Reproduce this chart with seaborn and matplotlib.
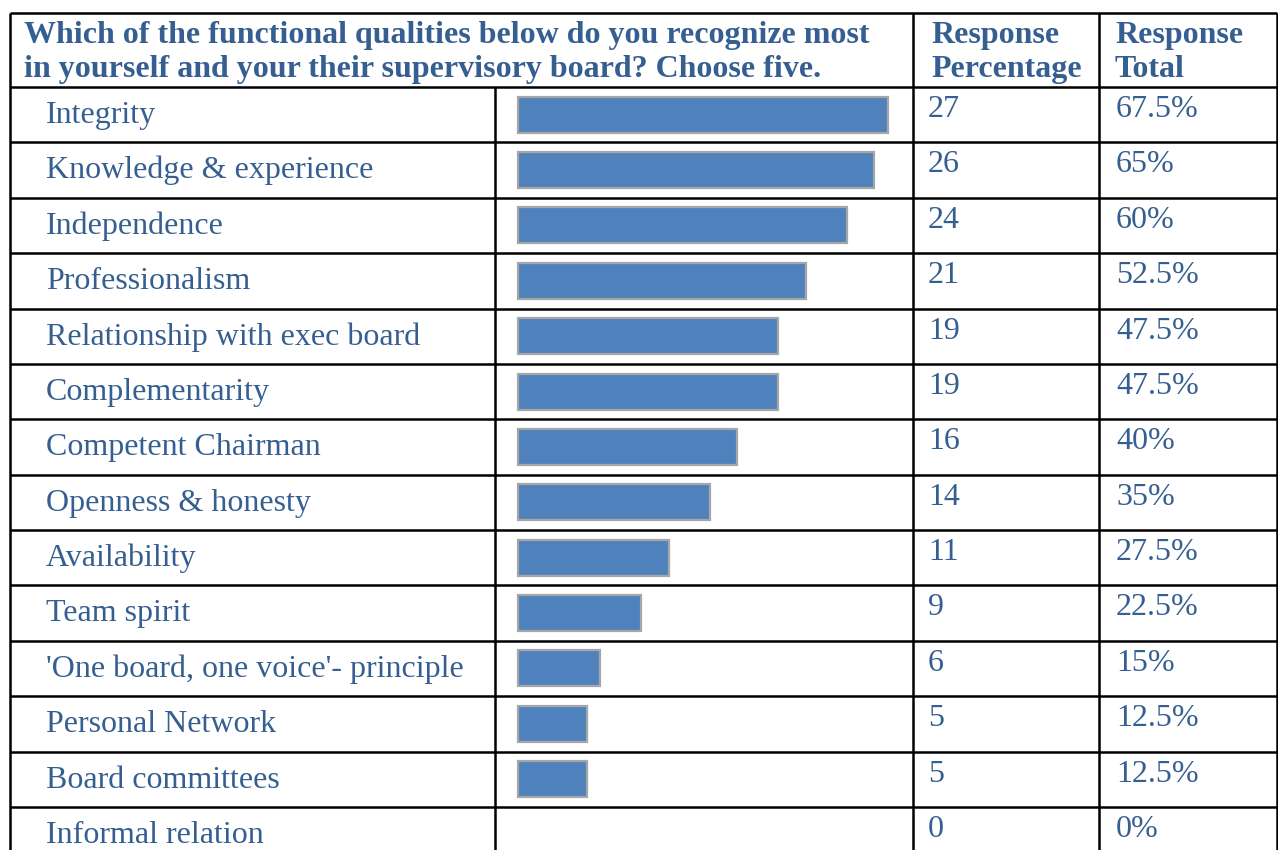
#Import packages
import matplotlib
matplotlib.use("Agg")
import matplotlib.pyplot as plt
import seaborn as sns
import pandas as pd

#Survey data
qualities = ["Integrity", "Knowledge & experience", "Independence", "Professionalism",
             "Relationship with exec board", "Complementarity", "Competent Chairman",
             "Openness & honesty", "Availability", "Team spirit",
             "'One board, one voice'- principle", "Personal Network",
             "Board committees", "Informal relation"]
counts = [27, 26, 24, 21, 19, 19, 16, 14, 11, 9, 6, 5, 5, 0]
percents = ["67.5%", "65%", "60%", "52.5%", "47.5%", "47.5%", "40%", "35%",
            "27.5%", "22.5%", "15%", "12.5%", "12.5%", "0%"]
question = ["Which of the functional qualities below do you recognize most",
            "in yourself and your their supervisory board? Choose five."]
col_heads = [["Response", "Percentage"], ["Response", "Total"]]

df = pd.DataFrame({"Quality": qualities, "Count": counts})

#Layout in pixels
W, H = 1278, 850
top, head_bot, row_h = 13, 87, 55.38
x_left, x_bar_col, x_num, x_pct, x_right = 10, 495, 913, 1099, 1276.5
bar_zero, px_per_unit = 518, 13.7
txt_col = "#365F91"
bar_col = "#4F81BD"

sns.set_style("white")
plt.rcParams["font.family"] = ["Liberation Serif", "DejaVu Serif"]

fig = plt.figure(figsize=(W / 100, H / 100), dpi=100)

#Full-figure axes for the table grid and text (pixel coordinates)
tab = fig.add_axes([0, 0, 1, 1])
tab.set_xlim(0, W)
tab.set_ylim(H, 0)
tab.axis("off")

#Bar axes inside the bar column
ax = fig.add_axes([x_bar_col / W, 0, (x_num - x_bar_col) / W, (H - head_bot) / H])
sns.barplot(ax=ax, data=df, x="Count", y="Quality", order=qualities,
            orient="h", color=bar_col, saturation=1, width=0.65,
            edgecolor="#A6A6A6", linewidth=1.6)
for p in ax.patches:
    if p.get_width() == 0:
        p.set_visible(False)
ax.set_xlim(-(bar_zero - x_bar_col) / px_per_unit, (x_num - bar_zero) / px_per_unit)
ax.set_ylim(-0.5 + (H - head_bot) / row_h, -0.5)
ax.axis("off")
ax.patch.set_visible(False)

#Grid lines
lw = 1.8
tab.hlines(top, x_left, x_right, color="black", lw=lw)
for k in range(len(qualities) + 1):
    tab.hlines(head_bot + k * row_h, x_left, x_right, color="black", lw=lw)
tab.vlines([x_left, x_num, x_pct, x_right], top, H, color="black", lw=lw)
tab.vlines(x_bar_col, head_bot, H, color="black", lw=lw)

#Header text
fs = 23
tab.text(24, 43, question[0], fontsize=fs, fontweight="bold", color=txt_col, va="baseline")
tab.text(24, 77, question[1], fontsize=fs, fontweight="bold", color=txt_col, va="baseline")
for x0, heads in zip([931, 1115], col_heads):
    tab.text(x0, 43, heads[0], fontsize=fs, fontweight="bold", color=txt_col, va="baseline")
    tab.text(x0, 77, heads[1], fontsize=fs, fontweight="bold", color=txt_col, va="baseline")

#Row text
for i, (q, c, pc) in enumerate(zip(qualities, counts, percents)):
    y0 = head_bot + i * row_h
    tab.text(46, y0 + 36, q, fontsize=fs, color=txt_col, va="baseline")
    tab.text(928, y0 + 30, str(c), fontsize=fs, color=txt_col, va="baseline")
    tab.text(1116, y0 + 30, pc, fontsize=fs, color=txt_col, va="baseline")

fig.savefig("out.png", dpi=100)
